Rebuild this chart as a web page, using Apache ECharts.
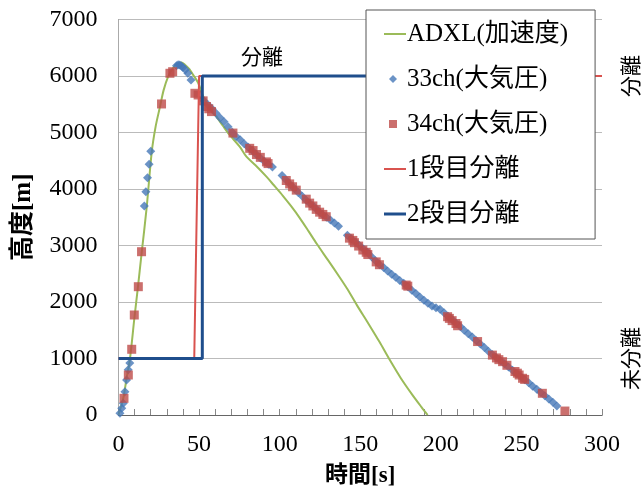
<!DOCTYPE html>
<html>
<head>
<meta charset="utf-8">
<script src="https://cdn.jsdelivr.net/npm/echarts@6/dist/echarts.min.js"></script>
<style>
  html, body { margin: 0; padding: 0; background: #fff; }
  #chart { width: 641px; height: 493px; }
</style>
</head>
<body>
<div id="chart"></div>
<script>
// ADXL(加速度) [時間 s, 高度 m]
const adxl = [
  [0, 0], [3, 300], [5, 650], [7, 970], [9.8, 1700], [12, 2250], [14.3, 2850], [17.5, 3680],
  [20.6, 4650], [23, 5100], [25.7, 5450], [28, 5750], [30.8, 5990], [34, 6150], [37, 6230],
  [39, 6240], [41.2, 6200], [44, 6120], [46.3, 6020], [49.4, 5880], [52.5, 5640], [56, 5450],
  [60.8, 5280], [65, 5110], [69, 4956], [75.2, 4750], [79.4, 4572], [85, 4420], [91.8, 4218],
  [96, 4080], [102, 3880], [107, 3700], [112.4, 3490], [118, 3250], [123, 3030], [130, 2740],
  [137, 2448], [142, 2230], [148, 1940], [155, 1620], [162, 1290], [168, 990], [175, 660],
  [182, 370], [188, 140], [191.8, 0]
]

// 33ch(大気圧)
const ch33 = [
  [0.9, 30], [2, 120], [3, 210], [4, 410], [5, 620], [6, 800], [7, 920],
  [16, 3700], [17, 3950], [18, 4200], [19, 4440], [20, 4670],
  [36, 6180], [37, 6200], [38, 6195], [39, 6175], [40, 6150], [41.5, 6110], [43, 6050], [45, 5930],
  [53, 5560], [55.5, 5490], [58, 5420], [60.5, 5340], [63, 5260], [65.5, 5190], [68, 5100],
  [70.5, 5010], [73, 4930], [75.5, 4870], [78, 4800], [80.5, 4740], [83, 4680], [85.5, 4610],
  [88, 4550], [90.5, 4490], [93, 4440], [95.5, 4390],
  [101.5, 4240], [104, 4160], [106.5, 4080], [109, 4010], [111.5, 3940], [114, 3870],
  [116.5, 3800], [119, 3740], [121.5, 3680], [124, 3610], [126.5, 3550], [129, 3500],
  [131.5, 3450], [134, 3400], [136.5, 3340],
  [142, 3180], [144.5, 3120], [147, 3060], [149.5, 3000], [152, 2940], [154.5, 2880],
  [157, 2800], [159.5, 2730], [162, 2660], [164.5, 2610], [167, 2550], [169.5, 2490],
  [172, 2440], [174.5, 2380], [177, 2330], [179.5, 2270], [182, 2210], [184.5, 2150],
  [187, 2090], [189.5, 2030], [192, 1980], [194.5, 1930], [197, 1900], [199.5, 1870],
  [202, 1810], [204.5, 1750], [207, 1690], [209.5, 1625], [212, 1565], [214.5, 1500],
  [217, 1440], [219.5, 1380], [222, 1315], [224.5, 1255], [227, 1195], [229.5, 1130],
  [232, 1070], [234.5, 1015], [237, 960], [239.5, 905], [242, 850], [244.5, 790],
  [247, 735], [249.5, 680], [252, 625], [254.5, 570], [257, 510], [259.5, 455],
  [262, 400], [264.5, 340], [267, 285], [269.5, 225], [272, 160]
]

// 34ch(大気圧)
const ch34 = [
  [3.4, 295], [6.1, 708], [8.2, 1163], [9.8, 1770], [12.3, 2271], [14.3, 2890],
  [26.7, 5505], [31.9, 6048], [33.6, 6076], [47.4, 5694], [49.4, 5664],
  [52.5, 5560], [54.6, 5460], [56, 5420], [57.7, 5370], [71, 4990],
  [81.4, 4720], [83.5, 4680], [85.6, 4610], [88, 4560], [91.8, 4480], [92.8, 4450],
  [104.1, 4150], [106.2, 4090], [108, 4040], [110.3, 3980],
  [116.5, 3820], [118.6, 3750], [120.6, 3700], [122.7, 3640], [124.8, 3590], [126.8, 3550], [128.9, 3510],
  [143.3, 3130], [145.4, 3090], [146.4, 3050], [149, 2990], [151.6, 2920], [153.7, 2880], [154.7, 2840],
  [159.9, 2710], [161.9, 2660], [178.5, 2300], [179.5, 2280],
  [204.2, 1740], [205.3, 1710], [207, 1670], [209.4, 1620], [210.4, 1580], [222.8, 1300],
  [232, 1060], [234.5, 1010], [236, 980], [238.3, 944], [241, 880],
  [246, 770], [247.5, 740], [248.6, 708], [250.7, 650], [252, 630], [263, 384], [277, 70]
]

// 1段目分離 / 2段目分離
const stage1 = [[0, 1000], [47, 1000], [50, 6000], [300, 6000]]
const stage2 = [[0, 1000], [52, 1000], [52, 6000], [290, 6000]]

const xTicks = { min: 0, max: 300, interval: 50 }
const yTicks = { min: 0, max: 7000, interval: 1000 }
const stateLabels = { 6000: '分離', 1000: '未分離' }

const fontMix = '"Liberation Serif", "Noto Sans CJK JP", serif'
const fontCJK = '"Noto Sans CJK JP", sans-serif'

// legend icons, 22x8 boxes so the marks keep their shape
const pad = 'M0,0 L0,0 M22,8 L22,8 '
const iconLine = 'path://' + pad + 'M0,3 L22,3 L22,5 L0,5 Z'
const iconThick = 'path://' + pad + 'M0,2.5 L22,2.5 L22,5.5 L0,5.5 Z'
const iconDiamond = 'path://' + pad + 'M9,0 L13,4 L9,8 L5,4 Z'
const iconSquare = 'path://' + pad + 'M5,0 L13,0 L13,8 L5,8 Z'

var chart = echarts.init(document.getElementById('chart'))

chart.setOption({
  animation: false,
  grid: { left: 118.5, right: 38, top: 19.5, bottom: 78 },
  legend: {
    orient: 'vertical',
    left: 366,
    top: 10,
    z: 20,
    padding: [11, 27, 12, 18],
    backgroundColor: '#fff',
    borderColor: '#555',
    borderWidth: 1,
    itemWidth: 22,
    itemHeight: 8,
    itemGap: 19,
    textStyle: { fontFamily: fontMix, fontSize: 25, color: '#000', lineHeight: 26, padding: [0, 0, 0, -4] },
    data: [
      { name: 'ADXL(加速度)', icon: iconLine },
      { name: '33ch(大気圧)', icon: iconDiamond },
      { name: '34ch(大気圧)', icon: iconSquare },
      { name: '1段目分離', icon: iconLine },
      { name: '2段目分離', icon: iconThick }
    ]
  },
  xAxis: [{
    type: 'value',
    min: xTicks.min,
    max: xTicks.max,
    interval: xTicks.interval,
    name: '時間[s]',
    nameLocation: 'middle',
    nameGap: 50,
    nameTextStyle: { fontFamily: fontMix, fontSize: 23, fontWeight: 'bold', color: '#000' },
    axisLine: { lineStyle: { color: '#888' } },
    axisTick: { show: true, inside: true, length: 6, lineStyle: { color: '#888' } },
    minorTick: { show: true, splitNumber: 5, length: 6, lineStyle: { color: '#888' } },
    axisLabel: { fontFamily: fontMix, fontSize: 24, color: '#000', margin: 18 },
    splitLine: { show: false }
  }, {
    type: 'value',
    position: 'top',
    min: xTicks.min,
    max: xTicks.max,
    axisLine: { show: true, lineStyle: { color: '#666' } },
    axisTick: { show: false },
    axisLabel: { show: false },
    splitLine: { show: false }
  }],
  yAxis: [{
    type: 'value',
    min: yTicks.min,
    max: yTicks.max,
    interval: yTicks.interval,
    name: '高度[m]',
    nameLocation: 'middle',
    nameGap: 82,
    nameTextStyle: { fontFamily: fontMix, fontSize: 25, fontWeight: 'bold', color: '#000' },
    axisLine: { show: true, lineStyle: { color: '#888' } },
    axisTick: { show: false },
    axisLabel: {
      fontFamily: fontMix, fontSize: 24, color: '#000', margin: 21,
      formatter: function (v) { return String(v) }
    },
    splitLine: { lineStyle: { color: '#bbb' } }
  }, {
    type: 'value',
    position: 'right',
    min: yTicks.min,
    max: yTicks.max,
    interval: yTicks.interval,
    axisLine: { show: true, lineStyle: { color: '#aaa' } },
    axisTick: { show: false },
    splitLine: { show: false },
    axisLabel: {
      rotate: 90,
      margin: 18,
      fontFamily: fontCJK,
      fontSize: 21,
      color: '#000',
      formatter: function (v) { return stateLabels[v] || '' }
    }
  }],
  series: [{
    name: 'ADXL(加速度)',
    type: 'line',
    data: adxl,
    smooth: 0.3,
    symbol: 'none',
    lineStyle: { color: '#9bbb59', width: 2 },
    itemStyle: { color: '#9bbb59' },
    z: 2
  }, {
    name: '33ch(大気圧)',
    type: 'scatter',
    data: ch33,
    symbol: 'diamond',
    symbolSize: 9,
    itemStyle: { color: '#4678b8' },
    z: 3
  }, {
    name: '34ch(大気圧)',
    type: 'scatter',
    data: ch34,
    symbol: 'rect',
    symbolSize: 9,
    itemStyle: { color: '#be4b48' },
    z: 4
  }, {
    name: '1段目分離',
    type: 'line',
    data: stage1,
    symbol: 'none',
    lineStyle: { color: '#d9534f', width: 2 },
    itemStyle: { color: '#d9534f' },
    z: 5
  }, {
    name: '2段目分離',
    type: 'line',
    data: stage2,
    symbol: 'none',
    lineStyle: { color: '#1f4e8c', width: 3 },
    itemStyle: { color: '#1f4e8c' },
    z: 6,
    markPoint: {
      symbol: 'circle',
      symbolSize: 0,
      data: [{ coord: [89, 6350], value: '分離' }],
      label: { show: true, position: 'inside', formatter: '分離', fontFamily: fontCJK, fontSize: 21, color: '#000' }
    }
  }]
})
</script>
</body>
</html>
